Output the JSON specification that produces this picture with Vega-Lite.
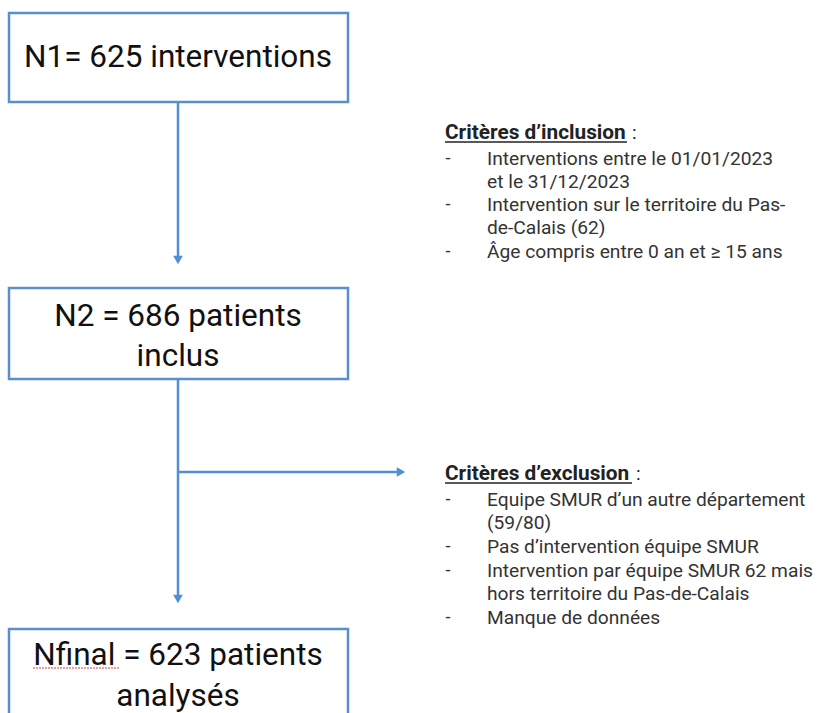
{
  "$schema": "https://vega.github.io/schema/vega-lite/v6.json",
  "width": 819,
  "height": 713,
  "autosize": {"type": "fit", "contains": "padding"},
  "padding": 0,
  "background": "white",
  "config": {"view": {"stroke": null}},
  "datasets": {
    "boxes": [
      {"id": "N1", "x0": 9, "x1": 348, "y0": 13, "y1": 102},
      {"id": "N2", "x0": 9, "x1": 348, "y0": 288, "y1": 379},
      {"id": "Nfinal", "x0": 9, "x1": 348, "y0": 629, "y1": 760}
    ],
    "links": [
      {"id": "a", "x0": 178, "y0": 102, "x1": 178, "y1": 258},
      {"id": "b", "x0": 178, "y0": 379, "x1": 178, "y1": 596},
      {"id": "c", "x0": 178, "y0": 472, "x1": 398, "y1": 472}
    ],
    "heads": [
      {"id": "a", "x": 178, "y": 260, "shape": "triangle-down"},
      {"id": "b", "x": 178, "y": 599, "shape": "triangle-down"},
      {"id": "c", "x": 401, "y": 472, "shape": "triangle-right"}
    ],
    "big": [
      {"x": 178, "y": 58, "text": "N1= 625 interventions"},
      {"x": 178, "y": 317, "text": "N2 = 686 patients"},
      {"x": 178, "y": 357, "text": "inclus"},
      {"x": 178, "y": 656, "text": "Nfinal = 623 patients"},
      {"x": 178, "y": 697, "text": "analysés"}
    ],
    "heads_text": [
      {"x": 445, "y": 133, "text": "Critères d’inclusion", "colon": 632},
      {"x": 445, "y": 474, "text": "Critères d’exclusion", "colon": 636}
    ],
    "underlines": [
      {"x0": 445, "x1": 627, "y": 142, "kind": "u"},
      {"x0": 445, "x1": 632, "y": 483, "kind": "u"}
    ],
    "spell": [
      {"x0": 33, "x1": 119, "y": 668}
    ],
    "dashes": [
      {"x": 448, "y": 159},
      {"x": 448, "y": 205},
      {"x": 448, "y": 252},
      {"x": 448, "y": 500},
      {"x": 448, "y": 547},
      {"x": 448, "y": 571},
      {"x": 448, "y": 618}
    ],
    "items": [
      {"x": 487, "y": 159, "text": "Interventions entre le 01/01/2023"},
      {"x": 487, "y": 182, "text": "et le 31/12/2023"},
      {"x": 487, "y": 205, "text": "Intervention sur le territoire du Pas-"},
      {"x": 487, "y": 228, "text": "de-Calais (62)"},
      {"x": 487, "y": 252, "text": "Âge compris entre 0 an et ≥ 15 ans"},
      {"x": 487, "y": 500, "text": "Equipe SMUR d’un autre département"},
      {"x": 487, "y": 523, "text": "(59/80)"},
      {"x": 487, "y": 547, "text": "Pas d’intervention équipe SMUR"},
      {"x": 487, "y": 571, "text": "Intervention par équipe SMUR 62 mais"},
      {"x": 487, "y": 594, "text": "hors territoire du Pas-de-Calais"},
      {"x": 487, "y": 618, "text": "Manque de données"}
    ]
  },
  "layer": [
    {
      "data": {"name": "boxes"},
      "mark": {"type": "rect", "fill": "white", "stroke": "#5b8fcb", "strokeWidth": 2.5, "clip": true},
      "encoding": {
        "x": {"field": "x0", "type": "quantitative", "scale": {"domain": [0, 819], "nice": false, "zero": false}, "axis": null},
        "x2": {"field": "x1"},
        "y": {"field": "y0", "type": "quantitative", "scale": {"domain": [0, 713], "nice": false, "zero": false, "reverse": true}, "axis": null},
        "y2": {"field": "y1"}
      }
    },
    {
      "data": {"name": "links"},
      "mark": {"type": "rule", "stroke": "#4f8fd3", "strokeWidth": 2.5},
      "encoding": {
        "x": {"field": "x0", "type": "quantitative"},
        "x2": {"field": "x1"},
        "y": {"field": "y0", "type": "quantitative"},
        "y2": {"field": "y1"}
      }
    },
    {
      "data": {"name": "heads"},
      "mark": {"type": "point", "filled": true, "fill": "#4f8fd3", "stroke": null, "opacity": 1, "size": 95},
      "encoding": {
        "x": {"field": "x", "type": "quantitative"},
        "y": {"field": "y", "type": "quantitative"},
        "shape": {"field": "shape", "type": "nominal", "scale": null, "legend": null}
      }
    },
    {
      "data": {"name": "big"},
      "mark": {"type": "text", "font": "Roboto", "fontSize": 31.5, "align": "center", "baseline": "middle", "color": "#111111"},
      "encoding": {
        "x": {"field": "x", "type": "quantitative"},
        "y": {"field": "y", "type": "quantitative"},
        "text": {"field": "text"}
      }
    },
    {
      "data": {"name": "spell"},
      "mark": {"type": "rule", "stroke": "#d04040", "strokeWidth": 1, "strokeDash": [2, 1]},
      "encoding": {
        "x": {"field": "x0", "type": "quantitative"},
        "x2": {"field": "x1"},
        "y": {"field": "y", "type": "quantitative"}
      }
    },
    {
      "data": {"name": "heads_text"},
      "mark": {"type": "text", "font": "Roboto", "fontSize": 20.8, "fontWeight": "bold", "align": "left", "baseline": "middle", "color": "#222222"},
      "encoding": {
        "x": {"field": "x", "type": "quantitative"},
        "y": {"field": "y", "type": "quantitative"},
        "text": {"field": "text"}
      }
    },
    {
      "data": {"name": "heads_text"},
      "mark": {"type": "text", "font": "Roboto", "fontSize": 19, "align": "left", "baseline": "middle", "color": "#222222", "text": ":"},
      "encoding": {
        "x": {"field": "colon", "type": "quantitative"},
        "y": {"field": "y", "type": "quantitative"}
      }
    },
    {
      "data": {"name": "underlines"},
      "mark": {"type": "rule", "stroke": "#222222", "strokeWidth": 1.3},
      "encoding": {
        "x": {"field": "x0", "type": "quantitative"},
        "x2": {"field": "x1"},
        "y": {"field": "y", "type": "quantitative"}
      }
    },
    {
      "data": {"name": "dashes"},
      "mark": {"type": "text", "font": "Roboto", "fontSize": 18, "align": "center", "baseline": "middle", "color": "#333333", "text": "-"},
      "encoding": {
        "x": {"field": "x", "type": "quantitative"},
        "y": {"field": "y", "type": "quantitative"}
      }
    },
    {
      "data": {"name": "items"},
      "mark": {"type": "text", "font": "Roboto", "fontSize": 19.2, "align": "left", "baseline": "middle", "color": "#333333"},
      "encoding": {
        "x": {"field": "x", "type": "quantitative"},
        "y": {"field": "y", "type": "quantitative"},
        "text": {"field": "text"}
      }
    }
  ]
}
